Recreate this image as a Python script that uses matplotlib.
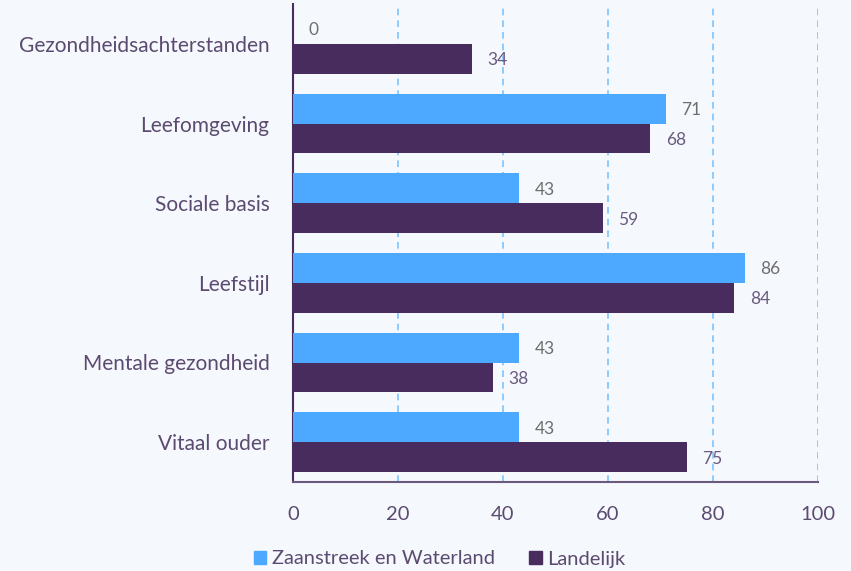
import matplotlib
matplotlib.use("Agg")
import matplotlib.pyplot as plt
import numpy as np
from matplotlib.patches import Patch

categories = ["Gezondheidsachterstanden", "Leefomgeving", "Sociale basis",
              "Leefstijl", "Mentale gezondheid", "Vitaal ouder"]
zaanstreek = [0, 71, 43, 86, 43, 43]
landelijk = [34, 68, 59, 84, 38, 75]
series_names = ["Zaanstreek en Waterland", "Landelijk"]
xticks = [0, 20, 40, 60, 80, 100]

bg = "#F5F8FD"
blue = "#4DA9FF"
purple = "#472C5D"
text_col = "#5C4B70"

plt.rcParams['font.family'] = ['Lato', 'DejaVu Sans']
W, H = 851, 571
fig = plt.figure(figsize=(W/100, H/100), dpi=100, facecolor=bg)
ax = fig.add_axes([293/W, 1-482/H, (818-293)/W, (482-4)/H], facecolor=bg)

n = len(categories)
y = np.arange(n)
h = 30/80
ax.barh(y - h/2, zaanstreek, height=h, color=blue, zorder=3)
ax.barh(y + h/2, landelijk, height=h, color=purple, zorder=3)

for i in range(n):
    ax.text(zaanstreek[i] + 3, y[i] - h/2 + 0.02, str(zaanstreek[i]), va='center', ha='left',
            fontsize=12.5, color="#6E6E6E")
    ax.text(landelijk[i] + 3, y[i] + h/2 + 0.02, str(landelijk[i]), va='center', ha='left',
            fontsize=12.5, color="#6A5A7E")

ax.set_ylim(n - 0.5, -0.5)
ax.set_xlim(0, 100)
ax.set_yticks(y)
ax.set_yticklabels(categories, fontsize=15, color=text_col)
ax.set_xticks(xticks)
ax.set_xticklabels([str(t) for t in xticks], fontsize=14.5, color=text_col)
ax.tick_params(axis='both', length=0)
ax.tick_params(axis='y', pad=17)
ax.tick_params(axis='x', pad=17)
for t in xticks[1:]:
    ax.axvline(t, color="#7CC4FF", lw=1.2, ls=(0, (4, 3)), zorder=1)
for s in ['top', 'right']:
    ax.spines[s].set_visible(False)
ax.spines['left'].set_color(purple)
ax.spines['bottom'].set_color("#6A5A7E")
ax.spines['left'].set_linewidth(1.5)
ax.spines['bottom'].set_linewidth(1.5)

handles = [Patch(color=blue), Patch(color=purple)]
fig.legend(handles, series_names, loc='center', bbox_to_anchor=(440/W, 1-559/H),
           ncol=2, frameon=False, handlelength=0.6, handleheight=0.6,
           handletextpad=0.3, columnspacing=1.7, labelcolor=text_col,
           prop={'size': 14.5})

fig.savefig("out.png", dpi=100, facecolor=bg)
